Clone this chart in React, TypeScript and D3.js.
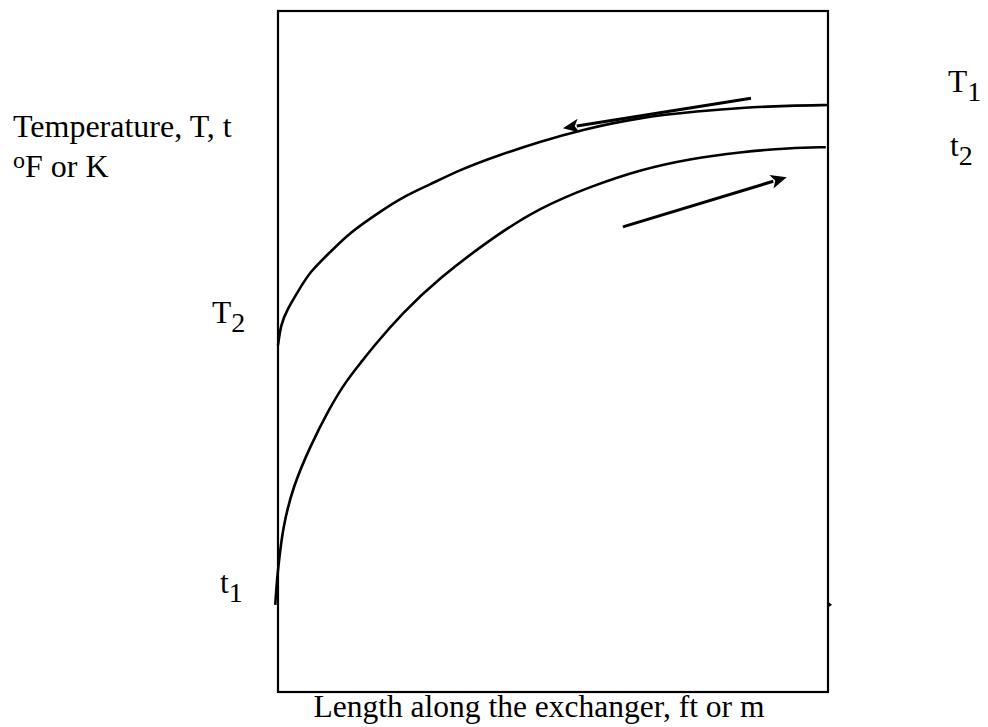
import React from "react";
import * as d3 from "d3";

// Hot fluid (T) — flows from right (T1) to left (T2)
const hotLength = [0, 0.5, 1.6, 4.0, 5.8, 9.5, 13.1, 18.5, 22.7, 27.6, 33.1, 40.4, 47.6, 54.9, 65.8, 76.7, 84.0, 93.1, 100];
const hotTemp = [50.9, 53.9, 56.1, 59.3, 61.7, 64.6, 67.5, 70.5, 72.7, 74.5, 76.7, 78.9, 80.8, 82.5, 84.4, 85.3, 85.8, 86.1, 86.2];

// Cold fluid (t) — flows from left (t1) to right (t2)
const coldLength = [-0.5, -0.2, 0.2, 0.9, 2.7, 5.8, 9.5, 12.5, 15.5, 17.3, 22.7, 28.9, 39.1, 47.6, 56.7, 65.8, 74.9, 84.0, 93.1, 99.6];
const coldTemp = [12.8, 16.4, 19.4, 24.2, 30.1, 36.0, 41.9, 45.8, 48.8, 50.7, 55.7, 60.5, 66.8, 71.1, 74.2, 76.7, 78.3, 79.3, 79.9, 80.0];

// Flow-direction arrows: [x0, y0, x1, y1] in data units
const hotArrow = [86.0, 87.2, 51.8, 82.8];
const coldArrow = [62.7, 68.3, 92.5, 75.6];

const yLabelLines = ["Temperature, T, t", "F or K"];
const xLabel = "Length along the exchanger, ft or m";

const W = 988;
const H = 727;
const FONT = "Liberation Serif, Times New Roman, serif";
const FS = 31.5;

export default function App() {
  const x = d3.scaleLinear().domain([0, 100]).range([278, 828]);
  const y = d3.scaleLinear().domain([0, 100]).range([692, 11]);

  const line = d3
    .line<[number, number]>()
    .x((d) => x(d[0]))
    .y((d) => y(d[1]))
    .curve(d3.curveBasis);

  const hot: [number, number][] = hotLength.map((l, i) => [l, hotTemp[i]]);
  const cold: [number, number][] = coldLength.map((l, i) => [l, coldTemp[i]]);

  const arrow = (a: number[]) => {
    const x0 = x(a[0]), y0 = y(a[1]), x1 = x(a[2]), y1 = y(a[3]);
    const ang = Math.atan2(y1 - y0, x1 - x0);
    const len = 16, wid = 7;
    const bx = x1 - len * Math.cos(ang), by = y1 - len * Math.sin(ang);
    const px = -Math.sin(ang) * wid, py = Math.cos(ang) * wid;
    return (
      <g>
        <line x1={x0} y1={y0} x2={bx + 2 * Math.cos(ang)} y2={by + 2 * Math.sin(ang)} stroke="#000" strokeWidth={3} />
        <path d={`M${x1},${y1}L${bx + px},${by + py}L${bx + 4 * Math.cos(ang)},${by + 4 * Math.sin(ang)}L${bx - px},${by - py}Z`} fill="#000" />
      </g>
    );
  };

  const textStyle = { fontFamily: FONT, fontSize: FS };

  return (
    <svg width={W} height={H} style={{ position: "absolute", left: 0, top: 0, background: "#fff" }}>
      <rect x={0} y={0} width={W} height={H} fill="#fff" />
      {/* frame */}
      <rect x={x(0)} y={y(100)} width={x(100) - x(0)} height={y(0) - y(100)} fill="none" stroke="#000" strokeWidth={2.2} />
      {/* small mark at right edge at t1 level */}
      <path d={`M${x(100)},${y(12.8) - 3}L${x(100) + 4},${y(12.8)}L${x(100)},${y(12.8) + 3}Z`} fill="#000" />

      <path d={line(hot) || ""} fill="none" stroke="#000" strokeWidth={2.6} />
      <path d={line(cold) || ""} fill="none" stroke="#000" strokeWidth={2.6} />

      {arrow(hotArrow)}
      {arrow(coldArrow)}

      {/* Y label */}
      <text x={13} y={137} style={{ fontFamily: FONT, fontSize: 32 }} fill="#000">{yLabelLines[0]}</text>
      <text x={13} y={177} style={{ fontFamily: FONT, fontSize: 32 }} fill="#000">
        <tspan style={{ fontSize: 24 }} dy={-9}>o</tspan>
        <tspan dy={9}>{yLabelLines[1]}</tspan>
      </text>

      {/* end labels */}
      <text x={212} y={323} style={textStyle} fill="#000">T<tspan style={{ fontSize: 28 }} dy={9}>2</tspan></text>
      <text x={220} y={593} style={textStyle} fill="#000">t<tspan style={{ fontSize: 28 }} dy={9}>1</tspan></text>
      <text x={948} y={92} style={textStyle} fill="#000">T<tspan style={{ fontSize: 28 }} dy={9}>1</tspan></text>
      <text x={950} y={156} style={textStyle} fill="#000">t<tspan style={{ fontSize: 28 }} dy={9}>2</tspan></text>

      {/* X label */}
      <text x={(x(0) + x(100)) / 2 - 14} y={717} style={textStyle} textAnchor="middle" fill="#000">{xLabel}</text>
    </svg>
  );
}
